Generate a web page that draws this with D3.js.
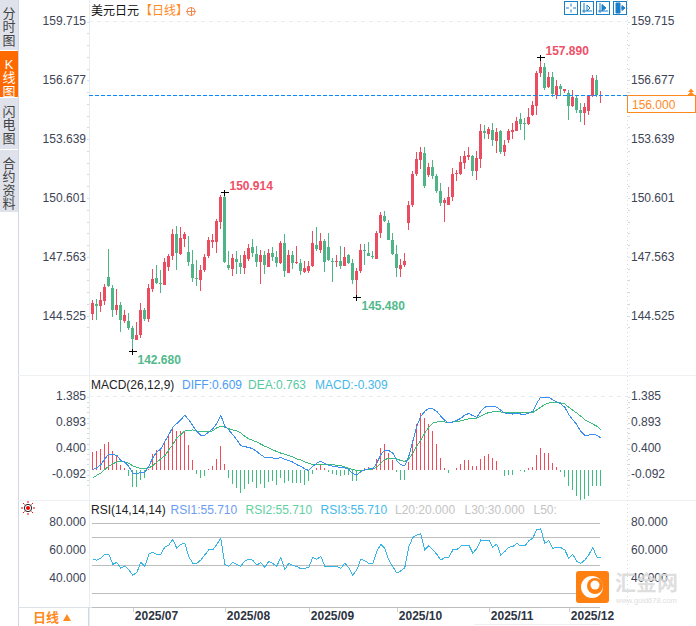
<!DOCTYPE html>
<html><head><meta charset="utf-8">
<script src="https://cdn.jsdelivr.net/npm/d3@7"></script>
<style>
html,body{margin:0;padding:0;background:#fff;overflow:hidden}
svg{display:block}
text{font-family:"Liberation Sans",Arial,"Noto Sans CJK SC",sans-serif}
.domain{display:none}
</style></head><body>
<div id="c"></div>
<script>
const open=[144.62,145.13,145.03,145.30,146.51,145.96,144.82,145.08,144.25,144.25,143.89,143.27,143.53,144.82,144.34,145.92,146.47,146.21,146.13,147.02,147.61,148.74,147.71,148.50,147.81,147.20,146.46,146.37,146.89,147.61,148.33,148.33,149.38,150.64,147.13,146.95,147.44,147.23,146.99,147.47,
148.09,147.71,147.30,147.66,147.06,147.75,147.54,147.23,148.26,146.75,147.66,147.23,147.23,146.78,146.85,147.09,148.18,147.92,148.38,148.07,147.35,147.32,147.35,147.11,147.66,147.25,146.39,146.83,147.92,147.75,147.59,147.45,148.80,149.67,149.31,148.43,147.71,146.94,147.14,
149.33,150.24,151.84,152.56,152.92,151.79,152.20,151.74,150.96,150.34,150.24,150.65,151.84,151.84,152.41,152.72,152.77,151.99,152.61,154.06,153.90,154.11,153.54,154.06,152.97,153.59,154.01,154.08,154.69,154.49,154.42,154.88,155.35,157.07,157.38,156.35,156.83,155.92,156.40,156.14,156.00,155.35,155.74,155.14,154.97,155.07,155.86,156.72,155.88];
const close=[145.17,145.03,145.34,145.99,146.06,144.82,145.08,144.31,144.56,143.89,143.31,143.53,144.82,144.34,145.96,146.40,146.20,146.18,147.30,147.61,148.74,147.78,148.54,148.74,147.30,146.47,146.42,146.89,147.54,148.43,148.43,149.41,150.64,147.30,146.99,147.51,147.30,147.06,147.64,148.02,
147.78,147.30,147.66,147.13,147.75,147.54,147.27,148.26,146.85,147.66,147.27,147.30,146.85,146.99,147.09,148.26,147.97,148.38,147.32,147.40,147.32,147.35,147.09,147.56,147.25,146.39,146.83,147.92,147.87,147.61,147.56,148.80,149.72,149.41,148.45,147.71,146.99,147.14,147.35,
150.24,151.84,152.61,152.97,151.22,152.20,151.74,150.96,150.34,150.50,150.65,151.84,151.89,152.46,152.77,152.82,151.99,152.67,154.06,153.96,154.16,153.59,154.01,152.97,153.33,154.06,154.11,154.59,154.42,154.42,154.80,155.40,157.07,157.38,156.26,156.86,155.97,156.38,156.21,156.21,155.35,155.80,155.14,154.97,155.31,155.86,156.79,155.93,155.93];
const high=[145.34,145.41,145.75,146.16,147.97,146.13,145.89,145.24,144.82,144.68,144.00,144.20,145.20,144.91,146.16,146.94,147.13,146.89,147.49,147.71,149.02,149.16,149.09,148.85,148.64,147.92,147.40,147.13,147.71,148.61,148.74,149.53,150.77,150.914,147.85,147.71,147.85,147.68,147.89,148.23,
148.47,148.12,147.92,147.88,147.95,148.05,147.85,148.40,148.74,147.92,147.85,148.12,147.44,147.37,147.37,148.88,149.09,148.81,148.47,148.78,147.50,147.64,148.12,148.06,147.71,147.44,146.99,148.23,148.23,148.33,147.85,148.92,149.88,149.91,149.47,148.81,148.18,147.44,147.76,
150.45,151.99,152.97,153.23,153.23,152.41,152.56,151.84,151.37,150.60,151.17,152.15,152.05,152.77,153.03,153.23,152.82,153.03,154.42,154.37,154.26,154.47,154.21,154.11,153.59,154.16,154.47,154.76,154.97,154.71,155.23,155.62,157.17,157.89,157.55,157.12,157.12,156.69,156.48,156.21,156.17,156.17,155.92,155.49,155.49,155.92,156.93,156.93,156.14];
const low=[144.31,144.31,144.72,145.06,145.99,144.48,144.56,143.69,144.17,143.79,142.68,143.27,143.36,144.24,144.20,145.77,146.16,145.72,146.10,146.85,147.40,146.89,147.64,148.09,147.09,146.27,146.06,145.82,146.78,147.51,148.02,147.78,148.98,147.23,146.89,146.58,146.68,146.68,146.68,147.37,
147.57,147.06,146.16,146.68,147.02,147.33,147.02,147.20,146.54,146.75,146.96,147.20,146.65,146.71,146.75,147.02,147.85,147.75,146.78,147.37,146.27,147.06,146.96,147.09,147.20,146.16,145.48,146.71,147.16,147.61,147.47,147.45,148.54,149.36,148.43,147.68,146.54,146.54,147.04,
148.95,150.14,151.74,152.10,151.12,151.68,151.58,150.86,150.19,149.36,150.24,150.45,151.48,151.79,152.10,152.56,151.74,151.53,152.15,153.65,153.65,153.28,152.92,152.87,152.77,153.44,153.65,154.04,154.11,153.59,154.37,154.83,154.88,156.83,156.17,156.30,155.83,155.69,155.92,156.00,154.63,155.31,154.97,154.54,154.37,154.88,155.83,155.83,155.49];
const macdHist=[.335,.354,.398,.499,.537,.366,.271,.101,.038,-.120,-.322,-.322,-.196,-.152,.019,.309,.385,.385,.543,.669,.814,.745,.745,.745,.480,.183,-.069,-.145,-.107,.025,.082,.215,.461,.120,-.152,-.259,-.347,-.436,-.360,-.259,-.234,-.341,-.259,-.341,-.234,-.215,-.278,-.152,-.246,-.202,-.246,-.246,-.246,-.278,-.215,-.069,.032,.120,.044,-.038,-.069,-.088,-.120,-.088,-.088,-.215,-.215,-.057,.044,.057,.038,.208,.417,.499,.322,.196,-.044,-.183,-.196,.158,.562,.878,1.080,.985,.878,.745,.499,.234,.044,-.063,.006,.044,.120,.196,.196,.082,.082,.208,.271,.309,.234,.177,-.006,-.107,-.088,-.088,-.006,-.013,-.044,.032,.063,.290,.423,.328,.316,.139,.063,-.038,-.139,-.309,-.372,-.486,-.574,-.549,-.486,-.309,-.309,-.309];
const diff=[.01,.04,.10,.21,.30,.29,.28,.18,.15,.07,-.06,-.08,-.04,-.04,.07,.23,.34,.40,.54,.67,.81,.88,.95,1.04,.95,.84,.73,.66,.66,.72,.78,.88,1.04,.83,.76,.67,.57,.46,.44,.43,.40,.35,.29,.24,.24,.23,.21,.24,.20,.18,.15,.10,.07,.02,-.01,.07,.13,.17,.12,.09,.07,.06,.05,.04,.01,-.07,-.09,-.03,.01,.02,.02,.13,.29,.38,.37,.32,.18,.10,.08,.26,.54,.83,1.02,1.11,1.17,1.16,1.11,1.02,.94,.89,.91,.94,.98,1.04,1.07,1.03,1.00,1.11,1.19,1.21,1.21,1.19,1.13,1.08,1.07,1.06,1.07,1.06,1.05,1.08,1.11,1.27,1.38,1.37,1.38,1.33,1.29,1.25,1.19,1.05,.95,.86,.73,.66,.66,.68,.66,.609];
const dea=[-.15,-.10,-.06,.01,.07,.12,.15,.16,.15,.13,.08,.05,.03,.02,.04,.08,.15,.21,.27,.38,.48,.61,.67,.74,.75,.76,.74,.72,.72,.73,.74,.80,.83,.81,.78,.76,.74,.70,.64,.59,.56,.53,.49,.45,.42,.38,.35,.32,.30,.27,.25,.21,.19,.15,.13,.10,.10,.11,.11,.11,.10,.09,.08,.06,.03,.01,-.01,-.01,0,.01,.02,.05,.13,.20,.22,.22,.21,.18,.16,.21,.32,.45,.57,.70,.81,.89,.91,.92,.91,.90,.91,.92,.93,.95,.97,.98,.98,1.02,1.06,1.09,1.10,1.10,1.10,1.09,1.09,1.09,1.09,1.08,1.08,1.08,1.09,1.14,1.19,1.24,1.27,1.27,1.27,1.27,1.25,1.19,1.13,1.08,1.02,.95,.91,.87,.83,.763];
const rsi=[54.5,53.6,55.0,57.9,57.9,50.7,52.1,47.9,49.5,46.7,42.9,44.8,52.1,49.3,57.9,59.3,57.9,57.9,63.1,64.5,68.6,62.1,65.0,65.7,56.2,51.4,51.4,53.8,57.4,61.0,61.0,65.0,69.3,50.7,49.3,52.1,50.7,49.3,53.1,54.5,53.6,50.2,51.9,48.6,52.9,51.2,49.3,55.7,46.9,51.4,49.8,49.3,47.4,47.9,48.6,55.7,54.3,56.4,49.3,49.3,49.3,49.3,47.9,51.4,48.3,
42.9,46.7,54.3,53.3,51.4,51.4,59.8,65.0,62.1,53.8,49.0,44.5,46.0,48.3,63.3,69.8,71.7,72.4,61.0,64.0,61.0,57.9,53.8,55.5,55.5,61.0,61.0,63.8,64.5,64.5,58.6,62.1,68.1,67.4,68.1,62.9,65.2,57.4,59.8,62.9,63.3,65.7,63.8,63.8,67.6,69.3,75.7,76.0,65.7,67.6,62.1,63.1,62.6,61.0,55.0,57.9,52.6,51.4,53.8,57.4,62.9,55.9,55.5];

const priceTicks=[159.715,156.677,153.639,150.601,147.563,144.525];
const macdTicks=[1.385,0.893,0.400,-0.092];
const rsiTicks=[80,60,40];
const rsiLevels=[80,70,50,30,20];
const dateTickIdx=[10,33,54,76,99,119];
const dateTickLabels=["2025/07","2025/08","2025/09","2025/10","2025/11","2025/12"];
const lastPrice=155.94, lastPriceLabel="156.000";
const peaks=[{i:33,v:150.914,t:"150.914",up:true,dx:5,dy:-3},{i:112,v:157.89,t:"157.890",up:true,dx:5,dy:-3},{i:10,v:142.68,t:"142.680",up:false,dx:5,dy:12},{i:66,v:145.48,t:"145.480",up:false,dx:5,dy:12}];
const tabs=[{t:["分","时","图"],a:false,y0:0,y1:50},{t:["K","线","图"],a:true,y0:51,y1:97},{t:["闪","电","图"],a:false,y0:98,y1:149},{t:["合","约","资","料"],a:false,y0:150,y1:212}];
const RED="#ea4c60",GREEN="#4fb587",TXT="#3d4455";

const W=696,H=626;
const svg=d3.select("#c").append("svg").attr("width",W).attr("height",H);
const x=d3.scaleLinear().domain([0,127]).range([92.3,600.3]);
const y=d3.scaleLinear().domain([144.525,159.715]).range([315.7,21.5]);
const yM=d3.scaleLinear().domain([0,1.385]).range([470,396.9]);
const yR=d3.scaleLinear().domain([20,80]).range([607.3,523.3]);
const px=v=>Math.round(x(v));
const idx=d3.range(open.length);

// frame
const line=(x1,y1,x2,y2,c,extra={})=>{const l=svg.append("line").attr("x1",x1).attr("y1",y1).attr("x2",x2).attr("y2",y2).attr("stroke",c).attr("shape-rendering","crispEdges");for(const k in extra)l.attr(k,extra[k]);return l;};
line(18.5,0,18.5,626,"#cfd8e3");
line(89.5,0,89.5,626,"#e8edf2");
line(18,375.5,696,375.5,"#eef0f3");
line(18,500.5,696,500.5,"#eef0f3");
line(18,607.5,600,607.5,"#dde2e8");
line(474,624.5,600,624.5,"#eef0f3");
line(88.5,607,88.5,626,"#cfd8e3");
line(627.5,0,627.5,606,"#d8dce2",{"stroke-dasharray":"1,3"});
line(89,21.5,627,21.5,"#e9ebee",{"stroke-dasharray":"4,4"});
line(89,396.5,627,396.5,"#e9ebee",{"stroke-dasharray":"4,4"});

// tabs
tabs.forEach(tb=>{
  svg.append("rect").attr("x",0).attr("y",tb.y0).attr("width",18).attr("height",tb.y1-tb.y0).attr("fill",tb.a?"#ff6a00":"#dfe2ea");
  tb.t.forEach((c,k)=>svg.append("text").attr("x",9).attr("y",tb.y0+13+k*13.6+4.5).attr("text-anchor","middle").attr("font-size",13).attr("fill",tb.a?"#fff":"#444").text(c));
});

// axes
function axes(scale,ticks,fmt,off){
  const l=svg.append("g").attr("transform","translate(87,0)").call(d3.axisLeft(scale).tickValues(ticks).tickFormat(fmt).tickSize(0).tickPadding(1));
  const r=svg.append("g").attr("transform","translate(631,0)").call(d3.axisRight(scale).tickValues(ticks).tickFormat(fmt).tickSize(0).tickPadding(0));
  [l,r].forEach(g=>g.selectAll("text").attr("font-size",12).attr("fill",TXT).attr("font-family","Liberation Sans").attr("dy",(.32-off/12)+"em"));
}
axes(y,priceTicks,d=>d.toFixed(3),0.5);
axes(yM,macdTicks,d=>d.toFixed(3),1);
axes(yR,rsiTicks,d=>d.toFixed(3),1.5);
// minor ticks
const minor=(s,ts,step)=>{ts.forEach(v=>{[0,1,2,3,4].forEach(k=>{const val=v-k*step/5;const yy=Math.round(s(val))+.5;if(yy>s.range()[1]-2&&yy<s.range()[0]+16){line(87,yy,89,yy,k?"#d5d9df":"#c9e0ee");line(628,yy,630,yy,k?"#d5d9df":"#c9e0ee");}});});};
minor(y,priceTicks,3.038);
minor(yM,macdTicks,.4925);

// candles
const cg=svg.append("g").attr("shape-rendering","crispEdges");
const colorOf=i=>close[i]>=open[i]?RED:GREEN;
cg.selectAll(".w").data(idx).join("line").attr("x1",i=>px(i)+.5).attr("x2",i=>px(i)+.5).attr("y1",i=>y(high[i])).attr("y2",i=>y(low[i])).attr("stroke",colorOf);
cg.selectAll(".b").data(idx).join("rect").attr("x",i=>px(i)-1).attr("width",3)
  .attr("y",i=>y(Math.max(open[i],close[i])))
  .attr("height",i=>Math.max(1,Math.abs(y(open[i])-y(close[i])))).attr("fill",colorOf);

// last price
const ly=Math.round(y(lastPrice))+.5;
svg.append("line").attr("x1",89).attr("x2",690).attr("y1",ly).attr("y2",ly).attr("stroke","#0a8cff").attr("stroke-width",1.2).attr("stroke-dasharray","4,2");
svg.append("rect").attr("x",627.5).attr("y",ly).attr("width",68).attr("height",17).attr("fill","#fff").attr("stroke","#ff8a1e");
svg.append("text").attr("x",632).attr("y",ly+13).attr("font-size",12).attr("fill","#ff8a1e").text(lastPriceLabel);
svg.append("path").attr("d",`M691 ${ly-7}l3 3.5h-6zM691 ${ly-4}l3.5 3.5h-7z`).attr("fill","#ff8a1e");

// extremes
peaks.forEach(p=>{
  const cx=px(p.i)+.5,cy=Math.round(y(p.v))+.5;
  line(cx-4,cy,cx+4,cy,"#000");
  line(cx,cy-3,cx,cy+3,"#000");
  svg.append("text").attr("x",cx+p.dx).attr("y",cy+p.dy).attr("font-size",12).attr("font-weight","bold").attr("fill",p.up?"#ef5068":"#52b98c").text(p.t);
});

// title
svg.append("text").attr("x",91).attr("y",15).attr("font-size",12).attr("fill","#111").text("美元日元");
svg.append("text").attr("x",140).attr("y",15).attr("font-size",12).attr("fill","#ff8a1e").text("【日线】");
svg.append("circle").attr("cx",191).attr("cy",11.5).attr("r",4).attr("fill","none").attr("stroke","#f08a50");
line(186,11.5,196,11.5,"#f08a50");line(191,7,191,16,"#f08a50");

// buttons
const btnX=[564,580,596,613];
btnX.forEach((bx,k)=>{
  svg.append("rect").attr("x",bx+.5).attr("y",1.5).attr("width",13).attr("height",13).attr("fill","#fff").attr("stroke","#1a7fc9");
  const d=["M"+(bx+7)+" 3.5v3M"+(bx+7)+" 9.5v3M"+(bx+2)+" 8h3M"+(bx+9)+" 8h3",
           "M"+(bx+4)+" 3v10M"+(bx+2)+" 11h10M"+(bx+7)+" 5l3 3-3 3z",
           "M"+(bx+4)+" 3v10M"+(bx+2)+" 11h10M"+(bx+6)+" 4.5l4 3.5-4 3z",
           "M"+(bx+3)+" 3h4v10h-4zM"+(bx+8)+" 8h3M"+(bx+9)+" 5.5l3 2.5-3 2.5z"][k];
  svg.append("path").attr("d",d).attr("fill",k>1?"#1a7fc9":"none").attr("stroke","#1a7fc9");
});

// MACD
const LEG=(tx,ty,t,c)=>svg.append("text").attr("x",tx).attr("y",ty).attr("font-size",12).attr("fill",c).text(t);
LEG(91,389,"MACD(26,12,9)","#222");
LEG(182,389,"DIFF:0.609","#4a9cf5");
LEG(248,389,"DEA:0.763","#56c9a0");
LEG(315,389,"MACD:-0.309","#45b8ea");
const hg=svg.append("g").attr("shape-rendering","crispEdges");
hg.selectAll("line").data(idx).join("line").attr("x1",i=>px(i)+.5).attr("x2",i=>px(i)+.5).attr("y1",yM(0)).attr("y2",i=>yM(macdHist[i])).attr("stroke",i=>macdHist[i]>=0?"#f04a5c":"#3fbf7f");
const lineM=d3.line().x((d,i)=>x(i)+.5).y(d=>yM(d));
svg.append("path").attr("d",lineM(dea)).attr("fill","none").attr("stroke","#3dbb7d").attr("shape-rendering","crispEdges");
svg.append("path").attr("d",lineM(diff)).attr("fill","none").attr("stroke","#3a8ef0").attr("shape-rendering","crispEdges");

// RSI
LEG(91,514,"RSI(14,14,14)","#222");
LEG(170.5,514,"RSI1:55.710","#6c9cf0");
LEG(245.5,514,"RSI2:55.710","#62cfa0");
LEG(320.5,514,"RSI3:55.710","#45b8ea");
LEG(395,514,"L20:20.000","#c4c4c4");
LEG(464.5,514,"L30:30.000","#c4c4c4");
LEG(533.5,514,"L50:","#c4c4c4");
rsiLevels.forEach(v=>{const yy=Math.round(yR(v))+.5;line(91.5,yy,600,yy,"#bdbdbd");});
svg.append("path").attr("d",d3.line().x((d,i)=>x(i)+.5).y(d=>yR(d))(rsi)).attr("fill","none").attr("stroke","#36b4e6").attr("shape-rendering","crispEdges");

// sun icon
const sun=svg.append("g").attr("transform","translate(28,508)");
d3.range(8).forEach(k=>{const a=k*Math.PI/4;sun.append("line").attr("x1",5*Math.cos(a)).attr("y1",5*Math.sin(a)).attr("x2",7*Math.cos(a)).attr("y2",7*Math.sin(a)).attr("stroke","#e00");});
sun.append("circle").attr("r",3.7).attr("fill","#fff").attr("stroke","#222");
sun.append("circle").attr("r",2).attr("fill","#e00");

// date axis
const ax=svg.append("g").attr("transform","translate(0,608)").call(d3.axisBottom(x).tickValues(dateTickIdx).tickFormat((d,k)=>dateTickLabels[k]).tickSize(4).tickPadding(0));
ax.selectAll("line").attr("stroke","#c9d0d8").attr("shape-rendering","crispEdges").attr("transform","translate(.5,0)");
ax.selectAll("text").attr("font-size",12).attr("font-weight","bold").attr("fill","#2d3442").attr("text-anchor","start").attr("font-family","Liberation Sans").attr("x",2).attr("y",12).attr("dy",0);

// period button
svg.append("text").attr("x",33).attr("y",622).attr("font-size",13).attr("font-weight","bold").attr("fill","#ff8a1e").text("日线");
svg.append("path").attr("d","M63 621l4-7 4 7z").attr("fill","#ff8a1e");

// watermark
const wm=svg.append("g");
wm.append("rect").attr("x",576).attr("y",571).attr("width",33).attr("height",32).attr("rx",3).attr("fill","#ff7f11");
wm.append("circle").attr("cx",592).attr("cy",587).attr("r",11).attr("fill","#fff");
wm.append("circle").attr("cx",595).attr("cy",586).attr("r",8).attr("fill","#ff7f11");
wm.append("circle").attr("cx",595).attr("cy",585).attr("r",4.5).attr("fill","#fff");
wm.append("text").attr("x",615).attr("y",590).attr("font-size",21).attr("font-weight","bold").attr("fill","#d9d9d9").attr("fill-opacity",.85).attr("font-family","Noto Sans CJK SC").text("汇金网");
wm.append("text").attr("x",616).attr("y",603).attr("font-size",7.5).attr("fill","#dedede").text("www.gold678.com");
</script></body></html>
